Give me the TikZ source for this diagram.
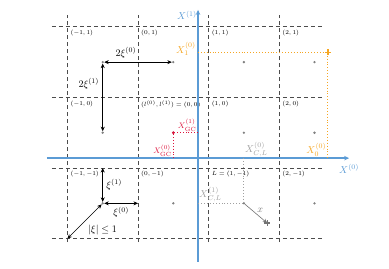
\documentclass[tikz,border=0pt]{standalone}
\usepackage{amsmath, amssymb}
\usepackage{xcolor}
\usepackage{tikz}
\usetikzlibrary{arrows.meta, positioning}

\definecolor{axisblue}{RGB}{91,155,213}
\definecolor{ptorange}{RGB}{245,166,35}
\definecolor{gcred}{RGB}{220,20,60}
\definecolor{clgray}{RGB}{160,160,160}

\begin{document}
\begin{tikzpicture}[
    x=70.6pt, y=70.6pt,
    gridline/.style={dash pattern=on 4pt off 3pt, line width=0.7pt, black!70},
    axisline/.style={-{Stealth[length=5pt, width=4.5pt]}, line width=1.3pt, axisblue},
    dot/.style={circle, fill=black!50, inner sep=0pt, minimum size=2.6pt},
    celllab/.style={anchor=north west, inner sep=3pt, font=\fontsize{6}{7}\selectfont},
    dimarrow/.style={{Stealth[length=4.5pt, width=4pt]}-{Stealth[length=4.5pt, width=4pt]}, semithick},
    guide/.style={dotted, line width=0.9pt},
    plusmark/.style={minimum size=6pt, inner sep=0pt,
        path picture={\draw[#1, line width=1.4pt]
            (path picture bounding box.north) -- (path picture bounding box.south)
            (path picture bounding box.west) -- (path picture bounding box.east);}}
]
\useasboundingbox (-1.955,-1.43) rectangle (3.555,2.38);

% dashed cell borders
\foreach \k in {-1,...,2} {
    \draw[gridline] (-1.22,\k) -- (2.61,\k);
    \draw[gridline] (\k,-1.05) -- (\k,2.17);
}

% cell centres
\foreach \i in {-1,...,2}
    \foreach \j in {-1,0,1}
        \node[dot] (c\i\j) at (\i+0.5,\j+0.5) {};

% cell indices
\foreach \i/\j/\t in {-1/1/{(-1,1)}, 0/1/{(0,1)}, 1/1/{(1,1)}, 2/1/{(2,1)},
                      -1/0/{(-1,0)}, 0/0/{(l^{(0)},l^{(1)})=(0,0)}, 1/0/{(1,0)}, 2/0/{(2,0)},
                      -1/-1/{(-1,-1)}, 0/-1/{(0,-1)}, 1/-1/{L=(1,-1)}, 2/-1/{(2,-1)}}
    \node[celllab] (lab\i\j) at (\i,\j+1) {$\t$};

% axes
\coordinate (v0) at (0.85,-1.33);
\coordinate (v1) at (0.85,2.24);
\coordinate (h0) at (-1.29,0.14);
\coordinate (h1) at (2.99,0.14);
\draw[axisline] (v0) -- (v1);
\draw[axisline] (h0) -- (h1);
\node[anchor=north east, inner sep=1pt, text=axisblue] (X1) at (v1) {$X^{(1)}$};
\node[below=3pt of h1, text=axisblue] (X0) {$X^{(0)}$};

% orange point
\coordinate (o1) at (0.85,1.64);
\coordinate (o0) at (2.69,0.14);
\node[plusmark=ptorange] (pO) at (2.69,1.64) {};
\draw[guide, ptorange] (o1) -- (pO.center) -- (o0);
\node[left=1pt of o1, yshift=3pt, text=ptorange, inner sep=1pt] (XO1) {$X^{(0)}_1$};
\node[anchor=south east, inner sep=1.5pt, text=ptorange] (XO0) at (o0) {$X^{(0)}_0$};

% grid centre
\coordinate (r1) at (0.85,0.5);
\coordinate (r0) at (0.5,0.14);
\draw[guide, gcred] (r1) -- (c00.center) -- (r0);
\node[dot, fill=gcred, minimum size=3pt] (gc) at (c00) {};
\node[anchor=south east, inner sep=1.5pt, text=gcred, font=\footnotesize] (XG1) at (r1) {$X^{(1)}_{\mathrm{GC}}$};
\node[anchor=south east, inner sep=1.5pt, text=gcred, font=\footnotesize] (XG0) at (r0) {$X^{(0)}_{\mathrm{GC}}$};

% cell L
\coordinate (g0) at (1.5,0.14);
\coordinate (g1) at (0.85,-0.5);
\draw[guide, clgray] (g0) -- (c1-1.center) -- (g1);
\node[anchor=south west, inner sep=1pt, text=clgray] (XL0) at (g0) {$X^{(0)}_{C,L}$};
\node[anchor=south west, inner sep=1pt, text=clgray] (XL1) at (g1) {$X^{(1)}_{C,L}$};
\node[plusmark=black!55] (pG) at (1.83,-0.78) {};
\draw[-{Stealth[length=4.5pt, width=4pt]}, black!55, semithick] (c1-1) -- (pG.center)
    node[midway, above right, inner sep=1pt] (lx) {$x$};

% cell size
\draw[dimarrow] (c-11) -- (c01) node[pos=0.32, above] (l2x0) {$2\xi^{(0)}$};
\draw[dimarrow] (c-11) -- (c-10) node[pos=0.3, left] (l2x1) {$2\xi^{(1)}$};
\coordinate (et) at (-0.5,0);
\coordinate (er) at (0,-0.5);
\coordinate (ec) at (-1,-1);
\draw[dimarrow] (et) -- (c-1-1) node[midway, right] (lx1) {$\xi^{(1)}$};
\draw[dimarrow] (c-1-1) -- (er) node[midway, below] (lx0) {$\xi^{(0)}$};
\draw[dimarrow] (c-1-1) -- (ec) node[midway, below right] (lnorm) {$|\xi| \le 1$};
\end{tikzpicture}
\end{document}
